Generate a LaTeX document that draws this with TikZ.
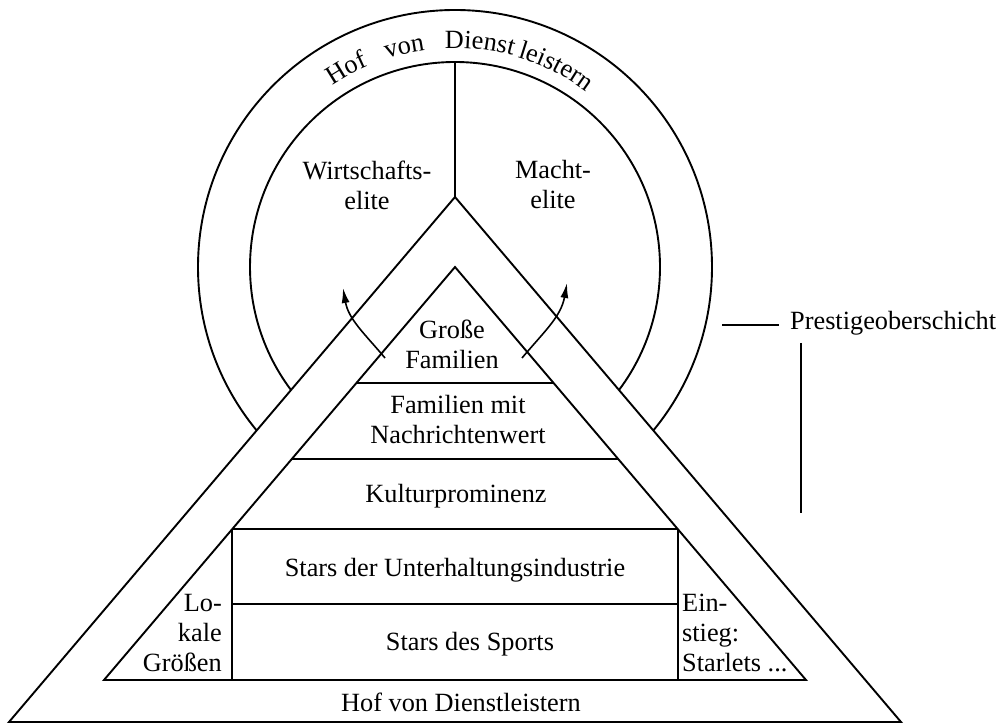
\documentclass[tikz,border=0pt]{standalone}
\usepackage{fontspec}
\setmainfont{Liberation Serif}
\usetikzlibrary{calc,arrows.meta,decorations.text}
\begin{document}
\begin{tikzpicture}[x=1pt,y=1pt,
  ln/.style={line width=1.9pt, line join=miter},
  lbl/.style={inner sep=0pt, font=\fontsize{26.3}{30}\selectfont, align=center},
  lblr/.style={lbl, align=right, anchor=east},
  lbll/.style={lbl, align=left, anchor=west},
  uparrow/.style={line width=1.6pt, -{Latex[length=15pt,width=8pt]}}]
\useasboundingbox (0,0) rectangle (999,725);
% geometry
\coordinate (C) at (455,458);
\coordinate (OA) at (455,528);
\coordinate (OL) at (9,3);
\coordinate (OR) at (901,3);
\coordinate (IA) at (455,458);
\coordinate (IL) at (104,45);
\coordinate (IR) at (806,45);
\coordinate (CT) at (455,663);
% circles (ring)
\draw[ln] (C) circle[radius=257];
\draw[ln] (C) circle[radius=205];
\draw[ln] (CT) -- (OA);
% ring text
\path[decorate, decoration={text along path, text align={fit to path stretching spaces},
  text={|\fontsize{26.3}{30}\selectfont|Hof von Dienst}}]
  ($(C)+(124:219)$) arc[start angle=124, end angle=74.7, radius=219];
\path[decorate, decoration={text along path, text align=center,
  text={|\fontsize{26.3}{30}\selectfont|leistern}}]
  ($(C)+(73:219)$) arc[start angle=73, end angle=53.5, radius=219];
% outer triangle hides the lower part of the circles
\draw[ln, fill=white] (OL) -- (OA) -- (OR) -- cycle;
% inner pyramid
\draw[ln] (IL) -- (IA) -- (IR) -- cycle;
\coordinate (L1l) at ($(IA)!0.28087!(IL)$);
\coordinate (L1r) at ($(IA)!0.28087!(IR)$);
\coordinate (L2l) at ($(IA)!0.46489!(IL)$);
\coordinate (L2r) at ($(IA)!0.46489!(IR)$);
\coordinate (L3l) at ($(IA)!0.63438!(IL)$);
\coordinate (L3r) at ($(IA)!0.63438!(IR)$);
\draw[ln] (L1l) -- (L1r);
\draw[ln] (L2l) -- (L2r);
\draw[ln] (L3l) -- (L3r);
\coordinate (B3l) at (L3l |- IL);
\coordinate (B3r) at (L3r |- IR);
\draw[ln] (L3l) -- (B3l);
\draw[ln] (L3r) -- (B3r);
\draw[ln] ($(L3l)!0.4967!(B3l)$) -- ($(L3r)!0.4967!(B3r)$);
% labels
\node[lbl] (wirt) at (367,540) {Wirtschafts-\\elite};
\node[lbl] (macht) at (553,540) {Macht-\\elite};
\node[lbl] (gross) at (452,381) {Große\\Familien};
\node[lbl] (nachr) at (458,305) {Familien mit\\Nachrichtenwert};
\node[lbl, anchor=base] (kult) at (456,222) {Kulturprominenz};
\node[lbl, anchor=base] (unterh) at (455,148) {Stars der Unterhaltungsindustrie};
\node[lbl, anchor=base] (sport) at (470,74) {Stars des Sports};
\node[lbl, anchor=base] (hof) at (461,13) {Hof von Dienstleistern};
\node[lblr] (lokal) at (222,92) {Lo-\\kale\\Größen};
\node[lbll] (einst) at (682,92) {Ein-\\stieg:\\Starlets ...};
\node[lbl, anchor=base west] (prest) at (790,395) {Prestigeoberschicht};
% prestige markers
\coordinate (P1) at (722,400);
\coordinate (P2) at (779,400);
\coordinate (V1) at (801,382);
\coordinate (V2) at (801,212);
\draw[line width=1.6pt] (P1) -- (P2);
\draw[line width=1.6pt] (V1) -- (V2);
% arrows
\coordinate (a1s) at (385,367);
\coordinate (a1e) at (343,437);
\coordinate (a2s) at (522,367);
\coordinate (a2e) at (567,442);
\draw[uparrow] (a1s) to[out=130, in=-80] (a1e);
\draw[uparrow] (a2s) to[out=50, in=-100] (a2e);
\end{tikzpicture}
\end{document}
